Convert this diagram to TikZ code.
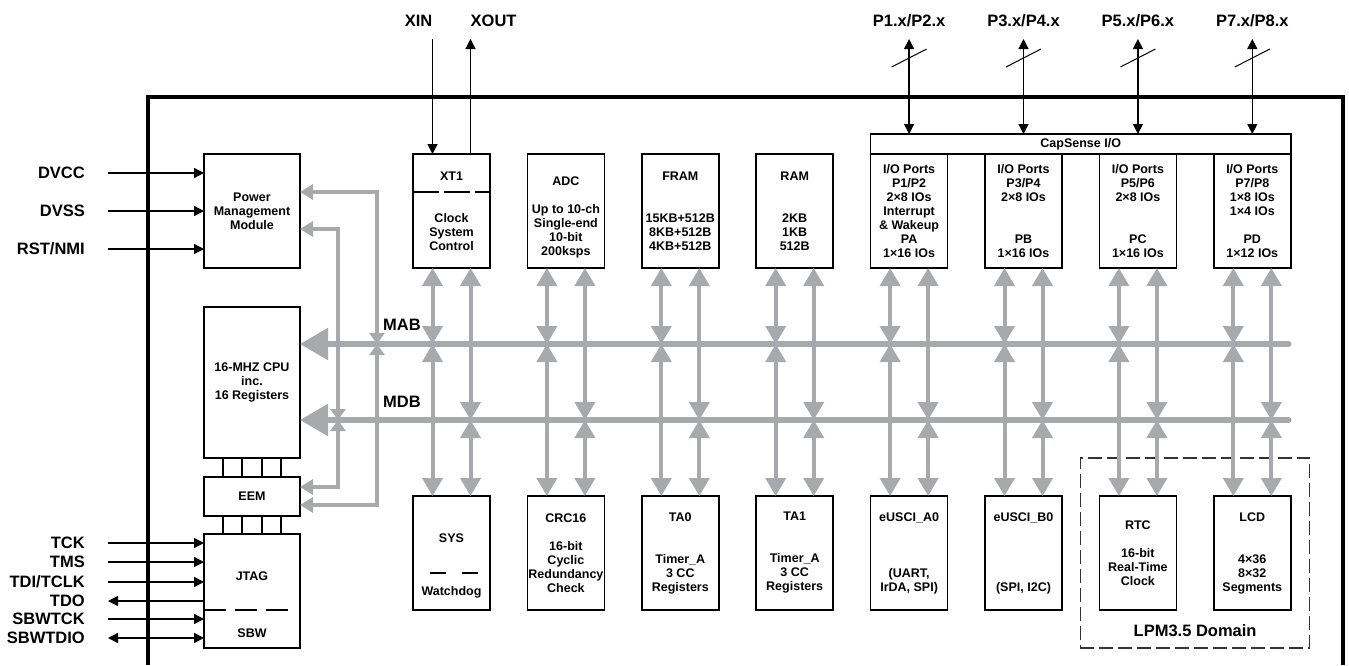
\documentclass[tikz,border=0pt]{standalone}
\usepackage{fontspec}
\setmainfont{Liberation Sans}
\usetikzlibrary{arrows.meta,positioning,calc,fit}
\definecolor{busgray}{RGB}{167,169,172}
\newcommand{\blkfont}{\fontsize{12.5}{14}\selectfont\bfseries}
\newcommand{\pinfont}{\fontsize{16.5}{18}\selectfont\bfseries}
\tikzset{
  blk/.style={draw, line width=1.5pt, minimum width=77pt, minimum height=114pt, inner sep=0pt, outer sep=0pt, align=center, font=\blkfont},
  txt/.style={align=center, font=\blkfont, inner sep=0pt},
  sig/.style={font=\pinfont, inner sep=0pt},
  wire/.style={line width=1.3pt, -{Triangle[width=10pt,length=10pt]}},
  wirebi/.style={line width=1.3pt, {Triangle[width=10pt,length=10pt]}-{Triangle[width=10pt,length=10pt]}},
  cpulink/.style={line width=1.5pt},
  sepline/.style={line width=1.2pt},
  dbus/.style={busgray, line width=4pt, {Triangle[width=20pt,length=18pt]}-{Triangle[width=20pt,length=18pt]}},
  mainbus/.style={busgray, line width=5.5pt, line cap=round, -{Triangle[width=31pt,length=28pt]}},
  ctl/.style={busgray, line width=3.5pt, {Triangle[width=15pt,length=13pt]}-{Triangle[width=15pt,length=13pt]}},
  ctltip/.style={busgray, line width=3.5pt, -{Triangle[width=15pt,length=11pt]}},
  lpmbox/.style={draw=black!80, line width=1.2pt, dash pattern=on 14pt off 5pt, inner xsep=19pt, inner ysep=38pt}
}
\begin{document}
\begin{tikzpicture}[x=1pt,y=-1pt]
  \useasboundingbox (0,0) rectangle (1349,665);
  % chip outline
  \draw[line width=4pt] (147.5,665) -- (147.5,96.5) -- (1342.5,96.5) -- (1342.5,665);

  % left column
  \node[blk, minimum width=96pt] (pmm) at (252,211) {Power\\Management\\Module};
  \node[blk, minimum width=96pt, minimum height=151pt, below=39pt of pmm] (cpu) {16-MHZ CPU\\inc.\\16 Registers};
  \node[blk, minimum width=96pt, minimum height=39pt, below=19pt of cpu] (eem) {EEM};
  \node[blk, minimum width=96pt, below=18pt of eem] (jtag) {};
  \node[txt] (jtagt) at ($(jtag.center)+(0,-15)$) {JTAG};
  \node[txt] (sbwt) at ($(jtag.center)+(0,42)$) {SBW};
  \draw[sepline, dash pattern=on 22pt off 9pt] ($(jtag.west)+(0,19)$) -- ($(jtag.east)+(-11,19)$);
  \foreach \dx in {-29,-10,10,29} {
    \draw[cpulink] ($(cpu.south)+(\dx,0)$) -- ($(eem.north)+(\dx,0)$);
    \draw[cpulink] ($(eem.south)+(\dx,0)$) -- ($(jtag.north)+(\dx,0)$);
  }

  % top row
  \node[blk] (xt1) at (451.5,211) {XT1\\[28pt]Clock\\System\\Control};
  \node[blk, right=37.4pt of xt1] (adc) {};
  \node[txt] (adct) at ($(adc.center)+(0,6)$) {ADC\\[14pt]Up to 10-ch\\Single-end\\10-bit\\200ksps};
  \node[blk, right=37.4pt of adc] (fram) {FRAM\\[28pt]15KB+512B\\8KB+512B\\4KB+512B};
  \node[blk, right=37.4pt of fram] (ram) {RAM\\[28pt]2KB\\1KB\\512B};
  \node[blk, right=37.4pt of ram] (pa) {I/O Ports\\P1/P2\\2×8 IOs\\Interrupt\\\& Wakeup\\PA\\1×16 IOs};
  \node[blk, right=37.4pt of pa] (pb) {I/O Ports\\P3/P4\\2×8 IOs\\[28pt]PB\\1×16 IOs};
  \node[blk, right=37.4pt of pb] (pc) {I/O Ports\\P5/P6\\2×8 IOs\\[28pt]PC\\1×16 IOs};
  \node[blk, right=37.4pt of pc] (pd) {I/O Ports\\P7/P8\\1×8 IOs\\1×4 IOs\\[14pt]PD\\1×12 IOs};
  \node[blk, minimum width=420.2pt, minimum height=20pt] (cap) at ($(pa.north west)!0.5!(pd.north east)+(0,-10)$) {CapSense I/O};
  \draw[sepline, dash pattern=on 26pt off 5pt] ($(xt1.west)+(0,-19)$) -- ($(xt1.east)+(0,-19)$);

  % bottom row
  \node[blk, below=228pt of xt1] (sys) {};
  \node[txt] (syst) at ($(sys.center)+(0,-15)$) {SYS};
  \node[txt] (wdt) at ($(sys.center)+(0,39)$) {Watchdog};
  \draw[sepline, dash pattern=on 16pt off 16pt] ($(sys.center)+(-22,20)$) -- ($(sys.center)+(26,20)$);
  \node[blk, below=228pt of adc] (crc) {CRC16\\[14pt]16-bit\\Cyclic\\Redundancy\\Check};
  \node[blk, below=228pt of fram] (ta0) {TA0\\[28pt]Timer\_A\\3 CC\\Registers};
  \node[blk, below=228pt of ram] (ta1) {TA1\\[28pt]Timer\_A\\3 CC\\Registers};
  \node[blk, below=228pt of pa] (usca) {eUSCI\_A0\\[42pt](UART,\\IrDA, SPI)};
  \node[blk, below=228pt of pb] (uscb) {eUSCI\_B0\\[56pt](SPI, I2C)};
  \node[blk, below=228pt of pc] (rtc) {RTC\\[14pt]16-bit\\Real-Time\\Clock};
  \node[blk, below=228pt of pd] (lcd) {LCD\\[28pt]4×36\\8×32\\Segments};
  \node[lpmbox, fit=(rtc)(lcd)] (lpm) {};
  \node[sig] (lpmt) at ($(lpm.south)+(0,-18)$) {LPM3.5 Domain};

  % buses
  \coordinate (mab) at ($(cpu.north east)+(0,37)$);
  \coordinate (mdb) at ($(cpu.north east)+(0,113)$);
  \draw[mainbus] ($(pd.east |- mab)+(-2,0)$) -- (mab);
  \draw[mainbus] ($(pd.east |- mdb)+(-2,0)$) -- (mdb);
  \node[sig, anchor=west] (mabt) at ($(mab)+(83,-19)$) {MAB};
  \node[sig, anchor=west] (mdbt) at ($(mdb)+(83,-18)$) {MDB};
  \foreach \t/\b in {xt1/sys,adc/crc,fram/ta0,ram/ta1,pa/usca,pb/uscb,pc/rtc,pd/lcd} {
    \draw[dbus] ($(\t.south)+(-19,0)$) -- ($(\t.south |- mab)+(-19,0)$);
    \draw[dbus] ($(\t.south |- mab)+(-19,0)$) -- ($(\b.north)+(-19,0)$);
    \draw[dbus] ($(\t.south)+(19,0)$) -- ($(\t.south |- mdb)+(19,0)$);
    \draw[dbus] ($(\t.south |- mdb)+(19,0)$) -- ($(\b.north)+(19,0)$);
  }
  \draw[ctl] ($(pmm.east)+(0,-19)$) -| ($(mab)+(77,0)$) |- ($(eem.east)+(0,8.5)$);
  \draw[ctl] ($(pmm.east)+(0,18)$) -| ($(mdb)+(38,0)$) |- ($(eem.east)+(0,-9.5)$);
  \draw[ctltip] ($(mab)+(77,-14)$) -- ($(mab)+(77,0)$);
  \draw[ctltip] ($(mab)+(77,14)$) -- ($(mab)+(77,0)$);
  \draw[ctltip] ($(mdb)+(38,-14)$) -- ($(mdb)+(38,0)$);
  \draw[ctltip] ($(mdb)+(38,14)$) -- ($(mdb)+(38,0)$);

  % supply and reset
  \node[sig, anchor=east] (dvcc) at (85,173) {DVCC};
  \node[sig, anchor=east] (dvss) at (85,211) {DVSS};
  \node[sig, anchor=east] (rst) at (85,249) {RST/NMI};
  \draw[wire] ([xshift=23pt]dvcc.east) -- (pmm.west |- dvcc.east);
  \draw[wire] ([xshift=23pt]dvss.east) -- (pmm.west |- dvss.east);
  \draw[wire] ([xshift=23pt]rst.east) -- (pmm.west |- rst.east);

  % debug pins
  \node[sig, anchor=east] (tck) at (85,543) {TCK};
  \node[sig, anchor=east] (tms) at (85,562) {TMS};
  \node[sig, anchor=east] (tdi) at (85,582) {TDI/TCLK};
  \node[sig, anchor=east] (tdo) at (85,601) {TDO};
  \node[sig, anchor=east] (sbwtck) at (85,619) {SBWTCK};
  \node[sig, anchor=east] (sbwtdio) at (85,638) {SBWTDIO};
  \draw[wire] ([xshift=23pt]tck.east) -- (jtag.west |- tck.east);
  \draw[wire] ([xshift=23pt]tms.east) -- (jtag.west |- tms.east);
  \draw[wire] ([xshift=23pt]tdi.east) -- (jtag.west |- tdi.east);
  \draw[wire] (jtag.west |- tdo.east) -- ([xshift=23pt]tdo.east);
  \draw[wire] ([xshift=23pt]sbwtck.east) -- (jtag.west |- sbwtck.east);
  \draw[wirebi] ([xshift=23pt]sbwtdio.east) -- (jtag.west |- sbwtdio.east);

  % crystal
  \node[sig, anchor=east] (xin) at ($(xt1.north)+(-19,-133)$) {XIN};
  \node[sig, anchor=west] (xout) at ($(xt1.north)+(19,-133)$) {XOUT};
  \draw[wire] ($(xt1.north)+(-19,-115)$) -- ($(xt1.north)+(-19,0)$);
  \draw[wire] ($(xt1.north)+(19,0)$) -- ++(0,-115);

  % port pins
  \node[sig] (p12) at ($(pa.north)+(0,-133)$) {P1.x/P2.x};
  \node[sig] (p34) at ($(pb.north)+(0,-133)$) {P3.x/P4.x};
  \node[sig] (p56) at ($(pc.north)+(0,-133)$) {P5.x/P6.x};
  \node[sig] (p78) at ($(pd.north)+(0,-133)$) {P7.x/P8.x};
  \draw[wirebi] (cap.north -| p12) -- ++(0,-95);
  \draw[wirebi] (cap.north -| p34) -- ++(0,-95);
  \draw[wirebi] (cap.north -| p56) -- ++(0,-95);
  \draw[wirebi] (cap.north -| p78) -- ++(0,-95);
  \draw[line width=1pt] ($(cap.north -| p12)+(-17.5,-67)$) -- ++(35,-18);
  \draw[line width=1pt] ($(cap.north -| p34)+(-17.5,-67)$) -- ++(35,-18);
  \draw[line width=1pt] ($(cap.north -| p56)+(-17.5,-67)$) -- ++(35,-18);
  \draw[line width=1pt] ($(cap.north -| p78)+(-17.5,-67)$) -- ++(35,-18);
\end{tikzpicture}
\end{document}
